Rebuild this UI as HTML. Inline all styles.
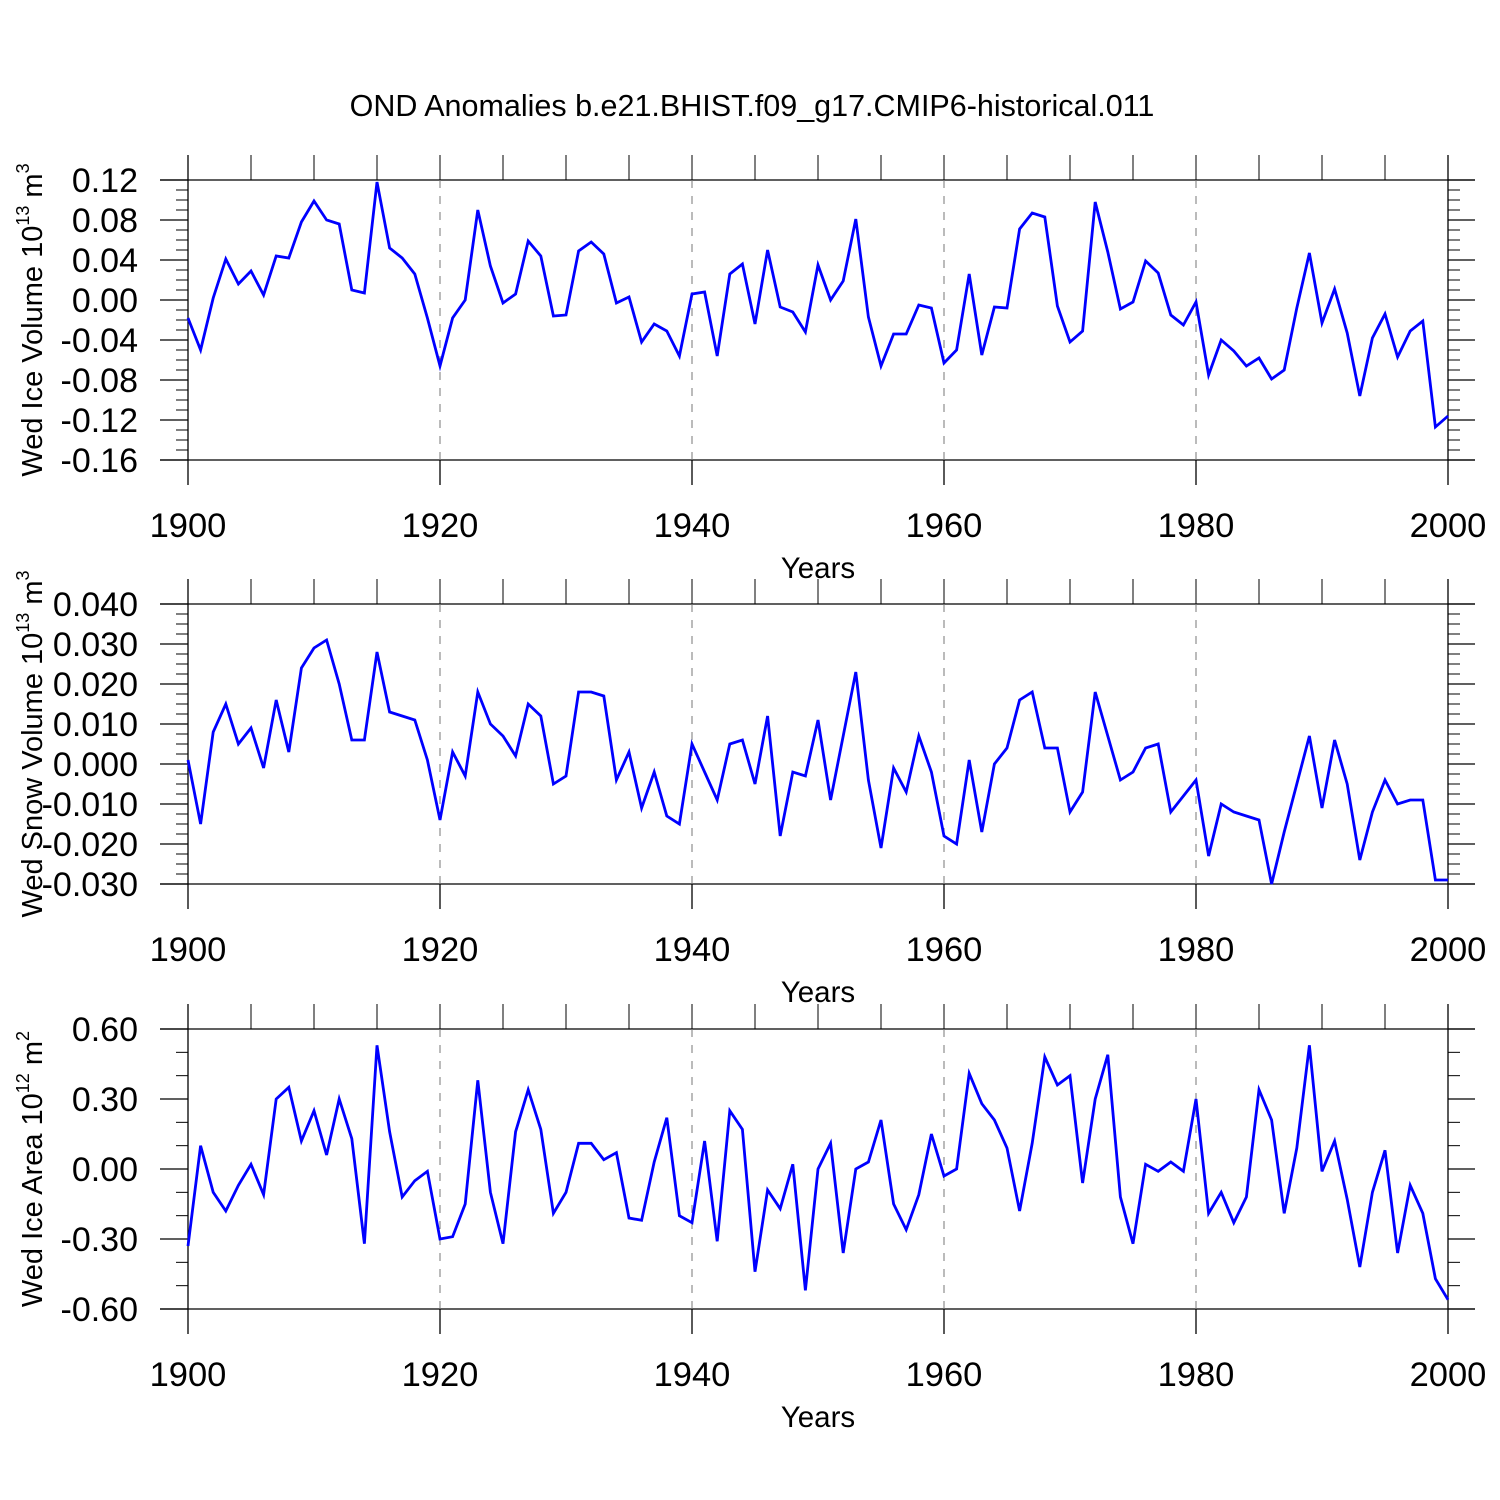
<!DOCTYPE html>
<html><head><meta charset="utf-8"><style>
body{margin:0;background:#fff}
svg{display:block;font-family:"Liberation Sans",Arial,sans-serif}
</style></head><body>
<svg id="chart" width="1500" height="1500" viewBox="0 0 1500 1500" xmlns="http://www.w3.org/2000/svg">
<rect width="1500" height="1500" fill="#fff"/>
<text x="752" y="116" font-size="30.5" text-anchor="middle">OND Anomalies b.e21.BHIST.f09_g17.CMIP6-historical.011</text>
</svg>
<script>
const years = [];
for (let y = 1900; y <= 2000; y++) years.push(y);
const iceVolume = [-0.018,-0.050,0.002,0.041,0.016,0.029,0.005,0.044,0.042,0.078,0.099,0.080,0.076,0.010,0.007,0.118,0.052,0.042,0.026,-0.018,-0.066,-0.018,0.000,0.090,0.034,-0.003,0.006,0.059,0.044,-0.016,-0.015,0.049,0.058,0.046,-0.003,0.003,-0.042,-0.024,-0.031,-0.056,0.006,0.008,-0.056,0.026,0.036,-0.024,0.050,-0.007,-0.012,-0.032,0.035,0.000,0.019,0.081,-0.017,-0.066,-0.034,-0.034,-0.005,-0.008,-0.063,-0.050,0.026,-0.055,-0.007,-0.008,0.071,0.087,0.083,-0.006,-0.042,-0.031,0.098,0.048,-0.009,-0.002,0.039,0.027,-0.015,-0.025,-0.002,-0.075,-0.040,-0.051,-0.066,-0.058,-0.079,-0.070,-0.008,0.047,-0.023,0.011,-0.033,-0.096,-0.038,-0.014,-0.057,-0.031,-0.021,-0.127,-0.116];
const snowVolume = [0.001,-0.015,0.008,0.015,0.005,0.009,-0.001,0.016,0.003,0.024,0.029,0.031,0.020,0.006,0.006,0.028,0.013,0.012,0.011,0.001,-0.014,0.003,-0.003,0.018,0.010,0.007,0.002,0.015,0.012,-0.005,-0.003,0.018,0.018,0.017,-0.004,0.003,-0.011,-0.002,-0.013,-0.015,0.005,-0.002,-0.009,0.005,0.006,-0.005,0.012,-0.018,-0.002,-0.003,0.011,-0.009,0.007,0.023,-0.004,-0.021,-0.001,-0.007,0.007,-0.002,-0.018,-0.020,0.001,-0.017,0.000,0.004,0.016,0.018,0.004,0.004,-0.012,-0.007,0.018,0.007,-0.004,-0.002,0.004,0.005,-0.012,-0.008,-0.004,-0.023,-0.010,-0.012,-0.013,-0.014,-0.030,-0.017,-0.005,0.007,-0.011,0.006,-0.005,-0.024,-0.012,-0.004,-0.010,-0.009,-0.009,-0.029,-0.029];
const iceArea = [-0.33,0.10,-0.10,-0.18,-0.07,0.02,-0.11,0.30,0.35,0.12,0.25,0.06,0.30,0.13,-0.32,0.53,0.16,-0.12,-0.05,-0.01,-0.30,-0.29,-0.15,0.38,-0.10,-0.32,0.16,0.34,0.17,-0.19,-0.10,0.11,0.11,0.04,0.07,-0.21,-0.22,0.03,0.22,-0.20,-0.23,0.12,-0.31,0.25,0.17,-0.44,-0.09,-0.17,0.02,-0.52,0.00,0.11,-0.36,0.00,0.03,0.21,-0.15,-0.26,-0.11,0.15,-0.03,0.00,0.41,0.28,0.21,0.09,-0.18,0.11,0.48,0.36,0.40,-0.06,0.30,0.49,-0.12,-0.32,0.02,-0.01,0.03,-0.01,0.30,-0.19,-0.10,-0.23,-0.12,0.34,0.21,-0.19,0.09,0.53,-0.01,0.12,-0.13,-0.42,-0.10,0.08,-0.36,-0.07,-0.19,-0.47,-0.56];
const xTickLabels = ["1900","1920","1940","1960","1980","2000"];
const iceVolTicks = ["0.12","0.08","0.04","0.00","-0.04","-0.08","-0.12","-0.16"];
const snowVolTicks = ["0.040","0.030","0.020","0.010","0.000","-0.010","-0.020","-0.030"];
const iceAreaTicks = ["0.60","0.30","0.00","-0.30","-0.60"];

const svg = document.getElementById('chart');
const NS = 'http://www.w3.org/2000/svg';
function mk(tag, attrs, parent) {
  const e = document.createElementNS(NS, tag);
  for (const k in attrs) e.setAttribute(k, attrs[k]);
  parent.appendChild(e);
  return e;
}
const X0 = 188, X1 = 1448;
const xScale = v => X0 + (v - 1900) / 100 * (X1 - X0);

function panel(top, name, values, ticks, ymax, ymin, minorStep, titleParts) {
  const bot = top + 280;
  const yScale = v => top + (ymax - v) / (ymax - ymin) * 280;
  const g = mk('g', {}, svg);
  
  
  mk('line', {x1:160,y1:top,x2:1475,y2:top,stroke:'#000','stroke-width':1.3}, g);
  mk('line', {x1:160,y1:bot,x2:1475,y2:bot,stroke:'#000','stroke-width':1.3}, g);
  mk('line', {x1:X0,y1:top-25,x2:X0,y2:bot+25,stroke:'#000','stroke-width':1.3}, g);
  mk('line', {x1:X1,y1:top-25,x2:X1,y2:bot+25,stroke:'#000','stroke-width':1.3}, g);
  for (let yr = 1905; yr < 2000; yr += 5) {
    const x = xScale(yr);
    mk('line', {x1:x,y1:top-25,x2:x,y2:top,stroke:'#000','stroke-width':1}, g);
    if (yr % 20 === 0) {
      mk('line', {x1:x,y1:top,x2:x,y2:bot,stroke:'#777','stroke-width':1,'stroke-dasharray':'8,8'}, g);
      mk('line', {x1:x,y1:bot,x2:x,y2:bot+25,stroke:'#000','stroke-width':1.3}, g);
    }
  }
  xTickLabels.forEach(l => {
    const t = mk('text', {x:xScale(+l),y:bot+77,'font-size':34.5,'text-anchor':'middle'}, g);
    
    
    t.textContent = l;
  });
  const xt = mk('text', {x:818,y:bot+118,'font-size':29.5,'text-anchor':'middle'}, g);
  
  
  xt.textContent = 'Years';
  const nMinor = Math.round((ymax - ymin) / minorStep);
  for (let i = 0; i <= nMinor; i++) {
    const y = top + i * 280 / nMinor;
    mk('line', {x1:X0-12,y1:y,x2:X0,y2:y,stroke:'#000','stroke-width':1}, g);
    mk('line', {x1:X1,y1:y,x2:X1+12,y2:y,stroke:'#000','stroke-width':1}, g);
  }
  ticks.forEach(l => {
    const y = yScale(parseFloat(l));
    mk('line', {x1:160,y1:y,x2:X0,y2:y,stroke:'#000','stroke-width':1.3}, g);
    mk('line', {x1:X1,y1:y,x2:1475,y2:y,stroke:'#000','stroke-width':1.3}, g);
    const t = mk('text', {x:138,y:y+12,'font-size':34,'text-anchor':'end'}, g);
    
    
    t.textContent = l;
  });
  const cy = top + 140;
  const yt = mk('text', {x:0,y:0,'font-size':29,'text-anchor':'middle',transform:`translate(42,${cy}) rotate(-90)`}, g);
  
  
  mk('tspan', {}, yt).textContent = titleParts[0];
  const s1 = mk('tspan', {'font-size':18,dy:-13}, yt); s1.textContent = titleParts[1];
  const s2 = mk('tspan', {dy:13}, yt); s2.textContent = ' ' + titleParts[2];
  const s3 = mk('tspan', {'font-size':18,dy:-13}, yt); s3.textContent = titleParts[3];
  const pts = values.map((v, i) => xScale(years[i]).toFixed(1) + ',' + yScale(v).toFixed(1)).join(' ');
  const pl = mk('polyline', {points:pts,fill:'none',stroke:'#0000ff','stroke-width':2.8,'stroke-linejoin':'miter'}, g);
  
  
}
panel(180, 'ice-volume', iceVolume, iceVolTicks, 0.12, -0.16, 0.01, ['Wed Ice Volume 10','13','m','3']);
panel(604, 'snow-volume', snowVolume, snowVolTicks, 0.04, -0.03, 0.0025, ['Wed Snow Volume 10','13','m','3']);
panel(1029, 'ice-area', iceArea, iceAreaTicks, 0.6, -0.6, 0.1, ['Wed Ice Area 10','12','m','2']);
</script>
</body></html>
